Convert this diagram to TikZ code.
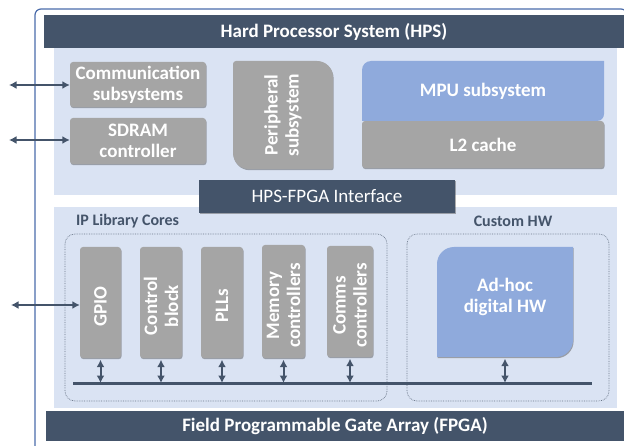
\documentclass[tikz,border=0pt]{standalone}
\usepackage{fontspec}
\setmainfont{Carlito}
\usetikzlibrary{arrows.meta,shadows}
\definecolor{dk}{HTML}{44546A}
\definecolor{lt}{HTML}{DAE3F3}
\definecolor{gr}{HTML}{A5A5A5}
\definecolor{bl}{HTML}{8FAADC}
\definecolor{fr}{HTML}{4A6BAA}
\newcommand\rpath[8]{%
({#1+#5},#2) -- ({#3-#6},#2) .. controls ({#3-0.448*#6},#2) and (#3,{#2+0.448*#6}) .. (#3,{#2+#6})
-- (#3,{#4-#7}) .. controls (#3,{#4-0.448*#7}) and ({#3-0.448*#7},#4) .. ({#3-#7},#4)
-- ({#1+#8},#4) .. controls ({#1+0.448*#8},#4) and (#1,{#4-0.448*#8}) .. (#1,{#4-#8})
-- (#1,{#2+#5}) .. controls (#1,{#2+0.448*#5}) and ({#1+0.448*#5},#2) .. ({#1+#5},#2) -- cycle}
\tikzset{
  shd/.style={drop shadow={shadow xshift=0.6pt,shadow yshift=-1.2pt,opacity=0.45,fill=black!70}},
  bar/.style={fill=dk,text=white,inner sep=0pt},
  region/.style={fill=lt,draw=none,inner sep=0pt},
  graybox/.style={fill=gr,rounded corners=3,shd,inner sep=0pt,text=white,align=center,font=\bfseries\fontsize{19}{21}\selectfont},
  plain/.style={inner sep=0pt,draw=none},
  wtxt/.style={text=white,align=center,font=\bfseries\fontsize{19}{21}\selectfont,inner sep=0pt},
  vtxt/.style={wtxt,rotate=90},
  lbl/.style={text=dk,font=\bfseries\fontsize{16}{18}\selectfont,inner sep=0pt},
  dots/.style={draw=dk!80,densely dotted,line width=0.7pt,rounded corners=10},
  arr/.style={draw=dk,line width=2pt,{Latex[length=7.5pt,width=8pt]}-{Latex[length=7.5pt,width=8pt]}},
}
\begin{document}
\begin{tikzpicture}[x=1pt,y=-1pt]
\useasboundingbox (0,0) rectangle (624,446);
% outer frame
\draw[fr,line width=1.2pt,rounded corners=6] (35,9) rectangle (627,455);
% HPS
\node[region,minimum width=563,minimum height=147] (hpsreg) at (335.5,121.5) {};
\node[bar,minimum width=580,minimum height=33,font=\bfseries\fontsize{19}{21}\selectfont] (hps) at (334,31.5) {Hard Processor System (HPS)};
\node[graybox,minimum width=136,minimum height=45] (comm) at (138,84.5) {Communication\\subsystems};
\node[graybox,minimum width=136,minimum height=46] (sdram) at (138,141) {SDRAM\\controller};
\fill[gr,shd] \rpath{233}{61}{333}{169}{3}{16}{2}{16};
\node[plain,minimum width=100,minimum height=108] (per) at (283,115) {};
\node[vtxt] (pert) at (per.center) {Peripheral\\subsystem};
\fill[gr,shd] \rpath{362}{121}{604}{168}{3}{3}{3}{3};
\node[plain,minimum width=242,minimum height=47] (l2) at (483,144.5) {};
\node[wtxt] (l2t) at (l2.center) {L2 cache};
\fill[bl] \rpath{362}{61}{604}{121}{9}{0}{7}{0};
\node[plain,minimum width=242,minimum height=60] (mpu) at (483,91) {};
\node[wtxt] (mput) at (mpu.center) {MPU subsystem};
% FPGA
\node[region,minimum width=563,minimum height=201] (fpgareg) at (335.5,307.5) {};
\node[bar,shd,minimum width=256,minimum height=33,font=\fontsize{19}{21}\selectfont] (ifc) at (327,196.5) {HPS-FPGA Interface};
\node[bar,minimum width=578,minimum height=30,font=\bfseries\fontsize{19}{21}\selectfont] (fpga) at (335,426) {Field Programmable Gate Array (FPGA)};
\node[lbl,anchor=west] (iplbl) at (76,221) {IP Library Cores};
\node[lbl] (cuslbl) at (513,221) {Custom HW};
\draw[dots] (65,234) rectangle (387,401);
\draw[dots] (407,234) rectangle (609,401);
\node[graybox,minimum width=41,minimum height=111] (gpio) at (100.5,302.5) {};
\node[vtxt] (gpiot) at ([yshift=-4pt]gpio.center) {GPIO};
\node[graybox,minimum width=42,minimum height=111] (ctrl) at (161,302.5) {};
\node[vtxt] (ctrlt) at ([yshift=-3.5pt]ctrl.center) {Control\\block};
\node[graybox,minimum width=42,minimum height=111] (pll) at (222,302.5) {};
\node[vtxt] (pllt) at ([yshift=-3pt]pll.center) {PLLs};
\node[graybox,minimum width=43,minimum height=113] (mem) at (283.5,301.5) {};
\node[vtxt] (memt) at ([yshift=-4pt]mem.center) {Memory\\controllers};
\node[graybox,minimum width=46,minimum height=111] (cmc) at (350,301.5) {};
\node[vtxt] (cmct) at ([yshift=-4pt]cmc.center) {Comms\\controllers};
\fill[bl,shd] \rpath{437}{247}{573}{357}{17}{0}{17}{0};
\node[plain,minimum width=136,minimum height=110] (adhoc) at (505,302) {};
\node[wtxt] (adhoct) at (505,297) {Ad-hoc\\digital HW};
% bus
\coordinate (busL) at (73,383);
\coordinate (busR) at (592,383);
\draw[dk,line width=3pt] (busL) -- (busR);
\foreach \n in {gpio,ctrl,pll,mem,cmc,adhoc}
  \draw[arr] ([yshift=-1.5pt]\n.south) -- (\n.south |- busL);
% external arrows
\coordinate (e1) at (9,85);
\coordinate (e2) at (9,140);
\coordinate (e3) at (11,305);
\draw[arr] (e1) -- (comm.west |- e1);
\draw[arr] (e2) -- (sdram.west |- e2);
\draw[arr] (e3) -- (gpio.west |- e3);
\end{tikzpicture}
\end{document}
